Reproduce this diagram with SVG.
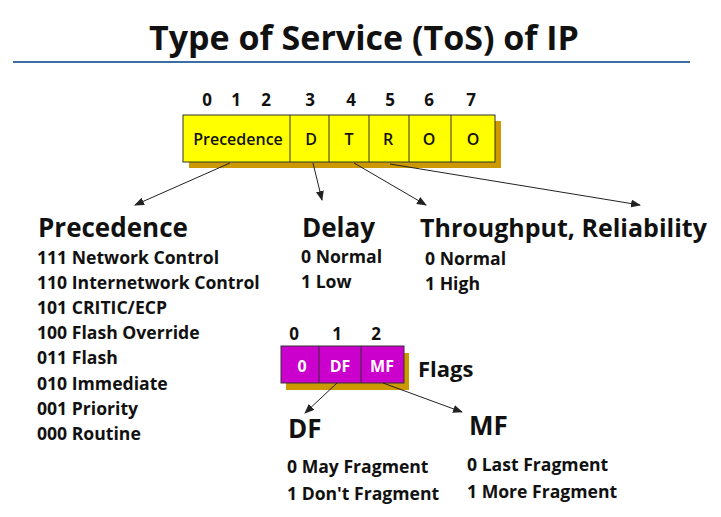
<svg xmlns="http://www.w3.org/2000/svg" width="721" height="517" viewBox="0 0 721 517">
<style>
text{font-family:"Open Sans","Liberation Sans",sans-serif;font-weight:bold;fill:#111}
.t{font-size:34px}
.h{font-size:26px}
.i{font-size:17.6px}
.n{font-size:17px}
.bx{font-size:16px;font-weight:600;text-anchor:middle}
.w{fill:#fff;font-weight:bold}
.c{text-anchor:middle}
.cell{stroke:#333;stroke-width:1}
.con{stroke:#222;stroke-width:1;fill:none;marker-end:url(#ah)}
</style>
<defs>
<marker id="ah" markerWidth="10" markerHeight="8" refX="9" refY="4" orient="auto" markerUnits="userSpaceOnUse">
<path d="M0,0 L10,4 L0,8 Z" fill="#222"/>
</marker>
</defs>
<rect width="721" height="517" fill="#fff"/>
<g id="title">
<text class="t c" x="364" y="50">Type of Service (ToS) of IP</text>
<line x1="13" y1="62" x2="690" y2="62" stroke="#3A6EA5" stroke-width="2"/>
</g>
<g id="tos-field">
<text class="n c" x="207" y="106">0</text>
<text class="n c" x="236" y="106">1</text>
<text class="n c" x="266" y="106">2</text>
<text class="n c" x="310" y="106">3</text>
<text class="n c" x="351" y="106">4</text>
<text class="n c" x="390" y="106">5</text>
<text class="n c" x="429" y="106">6</text>
<text class="n c" x="471" y="106">7</text>
<rect x="189" y="121" width="312" height="47" fill="#CC9900"/>
<rect class="cell" x="183" y="115" width="312" height="47" fill="#FFFF00"/>
<line class="cell" x1="290" y1="115" x2="290" y2="162"/>
<line class="cell" x1="329" y1="115" x2="329" y2="162"/>
<line class="cell" x1="369" y1="115" x2="369" y2="162"/>
<line class="cell" x1="409" y1="115" x2="409" y2="162"/>
<line class="cell" x1="451" y1="115" x2="451" y2="162"/>
<text class="bx" x="238" y="145">Precedence</text>
<text class="bx" x="311" y="145">D</text>
<text class="bx" x="349" y="145">T</text>
<text class="bx" x="388" y="145">R</text>
<text class="bx" x="429" y="145">O</text>
<text class="bx" x="473" y="145">O</text>
</g>
<g id="precedence">
<text class="h" x="38" y="237">Precedence</text>
<text class="i" x="37" y="264">111 Network Control</text>
<text class="i" x="37" y="289">110 Internetwork Control</text>
<text class="i" x="37" y="314">101 CRITIC/ECP</text>
<text class="i" x="37" y="339">100 Flash Override</text>
<text class="i" x="37" y="364">011 Flash</text>
<text class="i" x="37" y="390">010 Immediate</text>
<text class="i" x="37" y="415">001 Priority</text>
<text class="i" x="37" y="440">000 Routine</text>
</g>
<g id="delay">
<text class="h" x="302" y="237">Delay</text>
<text class="i" x="301" y="263">0 Normal</text>
<text class="i" x="301" y="288">1 Low</text>
</g>
<g id="throughput">
<text class="h" x="420" y="237" style="font-size:25px">Throughput, Reliability</text>
<text class="i" x="425" y="265">0 Normal</text>
<text class="i" x="425" y="290">1 High</text>
</g>
<g id="flags">
<text class="n c" x="294" y="340">0</text>
<text class="n c" x="337" y="340">1</text>
<text class="n c" x="376" y="340">2</text>
<rect x="286" y="353" width="123" height="37" fill="#CC9900"/>
<rect class="cell" x="281" y="346" width="123" height="37" fill="#CC00CC"/>
<line class="cell" x1="319" y1="346" x2="319" y2="383"/>
<line class="cell" x1="361" y1="346" x2="361" y2="383"/>
<text class="bx w" x="302" y="372">0</text>
<text class="bx w" x="340" y="372">DF</text>
<text class="bx w" x="382" y="372">MF</text>
<text x="418" y="377" style="font-size:22px">Flags</text>
</g>
<g id="df">
<text class="h" x="288" y="438">DF</text>
<text class="i" x="287" y="473">0 May Fragment</text>
<text class="i" x="287" y="500">1 Don't Fragment</text>
</g>
<g id="mf">
<text class="h" x="469" y="435">MF</text>
<text class="i" x="467" y="471">0 Last Fragment</text>
<text class="i" x="467" y="498">1 More Fragment</text>
</g>
<g id="connectors">
<line class="con" x1="230" y1="163" x2="135" y2="205"/>
<line class="con" x1="313" y1="163" x2="322" y2="200"/>
<line class="con" x1="354" y1="163" x2="426" y2="205"/>
<line class="con" x1="390" y1="164" x2="640" y2="205"/>
<line class="con" x1="337" y1="383" x2="305" y2="413"/>
<line class="con" x1="383" y1="383" x2="462" y2="412"/>
</g>
</svg>
